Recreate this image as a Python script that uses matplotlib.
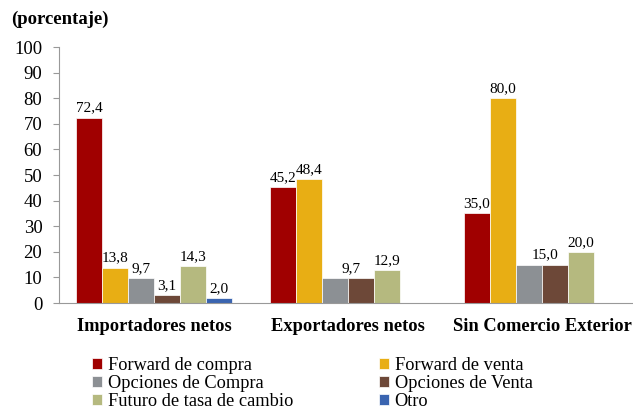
import matplotlib
matplotlib.use("Agg")
import matplotlib.pyplot as plt
import numpy as np

plt.rcParams["font.family"] = ["Liberation Serif", "DejaVu Serif"]

grupos = ["Importadores netos", "Exportadores netos", "Sin Comercio Exterior"]
series = ["Forward de compra", "Forward de venta", "Opciones de Compra",
          "Opciones de Venta", "Futuro de tasa de cambio", "Otro"]
valores = [
    [72.4, 45.2, 35.0],   # Forward de compra
    [13.8, 48.4, 80.0],   # Forward de venta
    [9.7, 9.7, 15.0],     # Opciones de Compra
    [3.1, 9.7, 15.0],     # Opciones de Venta
    [14.3, 12.9, 20.0],   # Futuro de tasa de cambio
    [2.0, 0.0, 0.0],      # Otro
]
colores = ["#A00000", "#E8AE14", "#8C9094", "#6D4838", "#B5B97F", "#3A64B0"]

fig = plt.figure(figsize=(6.33, 4.11), dpi=100)
ax = fig.add_axes([59 / 633, 108 / 411, 580 / 633, 256 / 411])

x = np.arange(len(grupos))
w = 0.134
barras = []
for i, (s, v, c) in enumerate(zip(series, valores, colores)):
    b = ax.bar(x - 2.5 * w + i * w, v, w, color=c, edgecolor="white",
               linewidth=0.5, label=s)
    barras.append(b)

# etiquetas de datos (una sola cuando compra y venta de opciones coinciden)
for i, b in enumerate(barras):
    for j, rect in enumerate(b):
        v = valores[i][j]
        if v == 0:
            continue
        xc = rect.get_x() + rect.get_width() / 2
        if i == 2 and valores[3][j] == v and j > 0:
            continue
        if i == 3 and valores[2][j] == v and j > 0:
            xc -= w * 0.4
        ax.text(xc, v + 1.2, f"{v:.1f}".replace(".", ","), ha="center",
                va="bottom", fontsize=11)

ax.set_xlim(-0.49, 2.5)
ax.set_ylim(0, 100)
ax.set_yticks(range(0, 101, 10))
ax.set_xticks(x)
ax.set_xticklabels(grupos, fontsize=13.3, fontweight="bold")
ax.tick_params(axis="x", length=0, pad=11)
ax.tick_params(axis="y", length=4, color="#999999", labelsize=13.5, pad=8)
for sp in ["top", "right"]:
    ax.spines[sp].set_visible(False)
for sp in ["left", "bottom"]:
    ax.spines[sp].set_color("#999999")

fig.text(11 / 633, 1 - 19 / 411, "(porcentaje)", fontsize=13.5, fontweight="bold",
         va="center", ha="left")

orden = [0, 2, 4, 1, 3, 5]
fig.legend([barras[k] for k in orden], [series[k] for k in orden], ncol=2,
           loc="upper left", bbox_to_anchor=(92 / 633, 1 - 357 / 411),
           frameon=False, fontsize=13.2, handlelength=0.55, handleheight=0.55,
           handletextpad=0.3, labelspacing=0.05, columnspacing=4.7,
           borderpad=0, borderaxespad=0)

fig.savefig("out.png", dpi=100)
